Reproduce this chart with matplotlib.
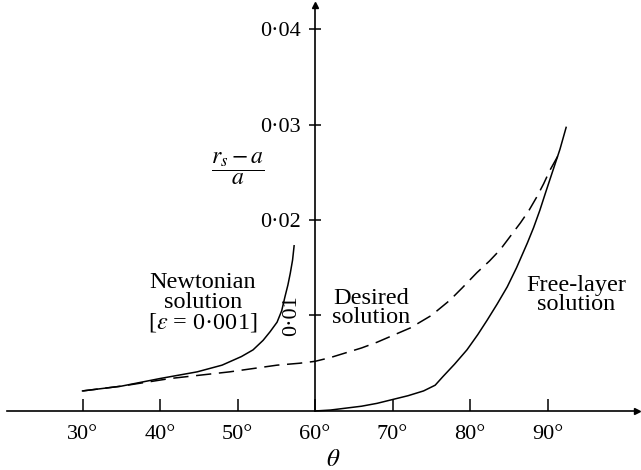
import matplotlib
matplotlib.use("Agg")
import matplotlib.pyplot as plt

plt.rcParams["font.family"] = "Liberation Serif"
plt.rcParams["mathtext.fontset"] = "stix"

# data (theta in degrees, (r_s - a)/a)
theta_newton = [30, 35, 40, 44.8, 48, 50.5, 52, 53.3, 54.2, 55.1, 55.7,
                56.1, 56.5, 56.8, 57.1, 57.3]
r_newton = [0.0021, 0.0026, 0.0034, 0.0041, 0.0048, 0.0057, 0.0064,
            0.0074, 0.0083, 0.0093, 0.0105, 0.0119, 0.0132, 0.0144,
            0.0158, 0.0173]

theta_desired = [30, 35, 41.3, 49, 55.1, 58, 60, 62, 64, 66, 68, 70, 72.3,
                 75, 77.4, 79, 80.9, 82.5, 83.9, 85.2, 86.5, 87.6, 88.6,
                 89.5, 90.3, 91.4]
r_desired = [0.0021, 0.0026, 0.0034, 0.0041, 0.0048, 0.0050, 0.0052,
             0.0056, 0.0061, 0.0066, 0.0072, 0.0079, 0.0087, 0.0100,
             0.0116, 0.0129, 0.0145, 0.0157, 0.0169, 0.0183, 0.0197,
             0.0210, 0.0224, 0.0238, 0.0252, 0.0268]

theta_free = [60, 62, 64, 66, 68, 70, 72, 74, 75.5, 76.5, 78, 79.6, 81,
              82.2, 83.5, 84.8, 86, 87.4, 88.2, 89, 89.8, 90.7, 91.6, 92.4]
r_free = [0, 0.0001, 0.0003, 0.0005, 0.0008, 0.0012, 0.0016, 0.0021,
          0.0027, 0.0036, 0.0049, 0.0064, 0.0080, 0.0095, 0.0112, 0.0130,
          0.0150, 0.0176, 0.0192, 0.0210, 0.0230, 0.0252, 0.0274, 0.0297]

x_ticks = [30, 40, 50, 60, 70, 80, 90]
x_labels = ["30°", "40°", "50°", "60°", "70°", "80°", "90°"]
y_ticks = [0.01, 0.02, 0.03, 0.04]
y_labels = ["0·01", "0·02", "0·03", "0·04"]

fig = plt.figure(figsize=(6.41, 4.70), dpi=100)
ax = fig.add_axes([0, 0, 1, 1])
ax.set_xlim(19.35, 102.06)
ax.set_ylim(-0.00618, 0.04304)

lw = 1.1
ax.plot(theta_newton, r_newton, "-", color="black", lw=lw)
ax.plot(theta_desired, r_desired, "--", color="black", lw=lw, dashes=(10, 5))
ax.plot(theta_free, r_free, "-", color="black", lw=lw)

# axes through (60, 0) with arrow heads
x_end = 101.6
y_end = 0.0425
ax.spines["top"].set_visible(False)
ax.spines["right"].set_visible(False)
ax.spines["bottom"].set_position(("data", 0))
ax.spines["left"].set_position(("data", 60))
ax.spines["bottom"].set_bounds(20.3, x_end)
ax.spines["left"].set_bounds(0, y_end)
ax.spines["bottom"].set_linewidth(1.2)
ax.spines["left"].set_linewidth(1.2)
ax.plot(x_end, 0, ">", color="black", ms=5, clip_on=False)
ax.plot(60, y_end, "^", color="black", ms=5, clip_on=False)

ax.set_xticks(x_ticks, x_labels)
ax.tick_params(axis="x", direction="in", length=9, width=1.1, pad=10,
               labelsize=16)
ax.set_yticks(y_ticks, y_labels)
ax.tick_params(axis="y", direction="inout", length=8, width=1.1, pad=6,
               labelsize=16)
ax.get_yticklabels()[0].set_rotation(90)
ax.get_yticklabels()[0].set_va("center")

ax.text(50.0, 0.0254, r"$\dfrac{r_s - a}{a}$", fontsize=17,
        ha="center", va="center")
ax.text(45.5, 0.0113, "Newtonian\nsolution\n[$\\epsilon$ = 0·001]",
        fontsize=17.5, ha="center", va="center", linespacing=0.9)
ax.text(67.2, 0.0108, "Desired\nsolution", fontsize=17.5,
        ha="center", va="center", linespacing=0.9)
ax.text(93.7, 0.01215, "Free-layer\nsolution", fontsize=17.5,
        ha="center", va="center", linespacing=0.9)
ax.text(62.3, -0.0051, r"$\theta$", fontsize=18, ha="center", va="center")

fig.savefig("out.png", dpi=100)
